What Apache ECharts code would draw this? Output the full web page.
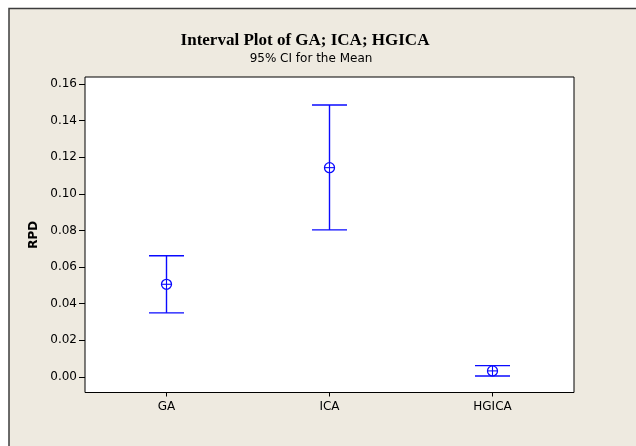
<!DOCTYPE html>
<html>
<head>
<meta charset="utf-8">
<script src="https://cdn.jsdelivr.net/npm/echarts@6/dist/echarts.min.js"></script>
<style>
  html, body { margin: 0; padding: 0; background: #ffffff; }
  #chart { width: 636px; height: 446px; }
</style>
</head>
<body>
<div id="chart"></div>
<script>
// Interval plot: mean with 95% confidence interval per method
const categories = ['GA', 'ICA', 'HGICA'];
const ciLower = [0.0350, 0.0803, 0.0005];
const means   = [0.0506, 0.1143, 0.0033];
const ciUpper = [0.0662, 0.1485, 0.0062];
const yTicks  = [0, 0.02, 0.04, 0.06, 0.08, 0.10, 0.12, 0.14, 0.16];
const yMin = -0.0085;
const yMax = 0.1638;

const BLUE = '#0a0aff';
const PANEL = '#eeeae0';

const intervalData = categories.map((c, i) => [i, ciLower[i], means[i], ciUpper[i]]);

function renderInterval(params, api) {
  const i = api.value(0);
  const lo = api.coord([i, api.value(1)]);
  const mid = api.coord([i, api.value(2)]);
  const hi = api.coord([i, api.value(3)]);
  const capHalf = 17.5;
  const r = 5;
  const style = { stroke: BLUE, lineWidth: 1.4, fill: null };
  return {
    type: 'group',
    children: [
      { type: 'line', shape: { x1: hi[0], y1: hi[1], x2: lo[0], y2: lo[1] }, style },
      { type: 'line', shape: { x1: hi[0] - capHalf, y1: hi[1], x2: hi[0] + capHalf, y2: hi[1] }, style },
      { type: 'line', shape: { x1: lo[0] - capHalf, y1: lo[1], x2: lo[0] + capHalf, y2: lo[1] }, style },
      { type: 'circle', shape: { cx: mid[0], cy: mid[1], r: r }, style: { stroke: BLUE, lineWidth: 1.3, fill: '#ffffff' } },
      { type: 'line', shape: { x1: mid[0] - r, y1: mid[1], x2: mid[0] + r, y2: mid[1] }, style: { stroke: BLUE, lineWidth: 1.1 } },
      { type: 'line', shape: { x1: mid[0], y1: mid[1] - r, x2: mid[0], y2: mid[1] + r }, style: { stroke: BLUE, lineWidth: 1.1 } }
    ]
  };
}

const chart = echarts.init(document.getElementById('chart'), null, { renderer: 'canvas' });
chart.setOption({
  backgroundColor: '#ffffff',
  animation: false,
  graphic: [{
    type: 'rect',
    z: -100,
    silent: true,
    shape: { x: 9, y: 8.5, width: 700, height: 600 },
    style: { fill: PANEL, stroke: '#3c3c3c', lineWidth: 1.5 }
  }],
  title: [
    {
      text: 'Interval Plot of GA; ICA; HGICA',
      left: 300, top: 27, textAlign: 'center',
      textStyle: { fontFamily: 'Liberation Serif', fontWeight: 'bold', fontSize: 17, color: '#000' }
    },
    {
      text: '95% CI for the Mean',
      left: 306, top: 48, textAlign: 'center',
      textStyle: { fontFamily: 'DejaVu Sans', fontWeight: 'normal', fontSize: 12, color: '#000' }
    }
  ],
  grid: {
    left: 85, right: 62, top: 77, bottom: 53.5,
    show: true, backgroundColor: '#ffffff', borderColor: '#000000', borderWidth: 1
  },
  xAxis: {
    type: 'category',
    data: categories,
    boundaryGap: true,
    axisLine: { show: false, onZero: false },
    axisTick: { show: true, alignWithLabel: true, length: 4, lineStyle: { color: '#000' } },
    axisLabel: { margin: 8, color: '#000', fontFamily: 'DejaVu Sans', fontSize: 12 },
    splitLine: { show: false }
  },
  yAxis: {
    type: 'value',
    min: yMin, max: yMax,
    name: 'RPD',
    nameLocation: 'middle',
    nameGap: 44,
    nameTextStyle: { fontFamily: 'DejaVu Sans', fontWeight: 'bold', fontSize: 12, color: '#000' },
    axisLine: { show: false },
    axisTick: { show: true, length: 6, customValues: yTicks, lineStyle: { color: '#000' } },
    axisLabel: {
      margin: 8, color: '#000', fontFamily: 'DejaVu Sans', fontSize: 12,
      customValues: yTicks,
      formatter: v => v.toFixed(2)
    },
    splitLine: { show: false }
  },
  series: [{
    type: 'custom',
    renderItem: renderInterval,
    data: intervalData,
    encode: { x: 0, y: [1, 2, 3] },
    clip: false
  }]
});
</script>
</body>
</html>
